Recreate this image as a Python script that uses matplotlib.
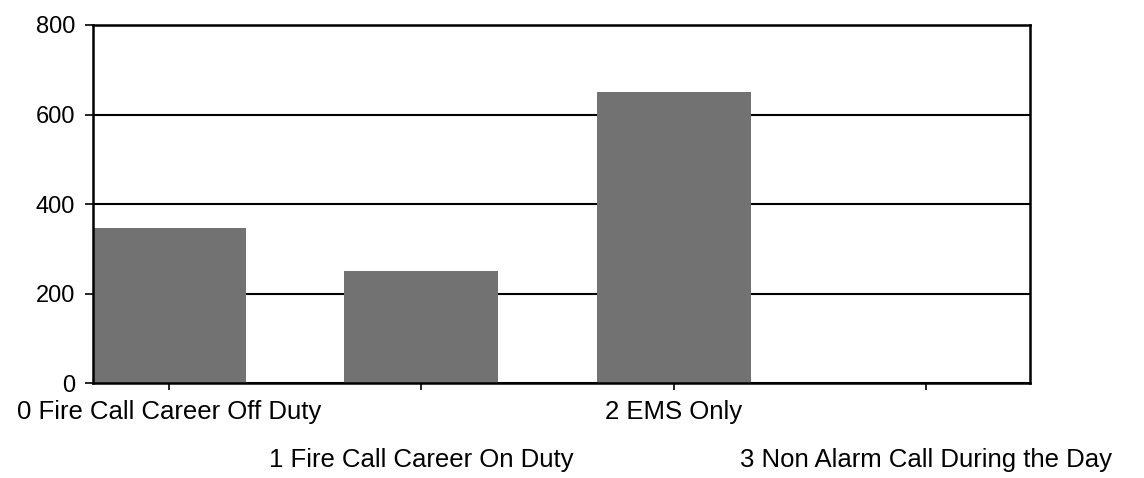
"""Bar chart of call counts by call type."""

import matplotlib

matplotlib.use("Agg")
import matplotlib.pyplot as plt
from matplotlib.transforms import ScaledTranslation

categories = [
    "0 Fire Call Career Off Duty",
    "1 Fire Call Career On Duty",
    "2 EMS Only",
    "3 Non Alarm Call During the Day",
]
counts = [346, 250, 650, 0]
y_ticks = [0, 200, 400, 600, 800]

plt.rcParams["font.family"] = ["Liberation Sans", "DejaVu Sans"]

fig = plt.figure(figsize=(11.44, 4.78), dpi=100)
ax = fig.add_axes([0.0813, 0.1987, 0.8190, 0.7490])

xs = list(range(len(categories)))
ax.bar(xs, counts, width=0.61, color="#727272", zorder=3)

ax.set_xlim(-0.30, 3.41)
ax.set_ylim(0, 800)
ax.set_yticks(y_ticks)
ax.set_xticks(xs)
ax.set_xticklabels(categories, fontsize=18.5)
ax.tick_params(axis="y", labelsize=17, length=6, width=1.2, direction="out", pad=7)
ax.tick_params(axis="x", length=5, width=1.2, direction="out", pad=7)

# stagger the odd labels onto a second row
shift = ScaledTranslation(0, -0.48, fig.dpi_scale_trans)
for label in ax.get_xticklabels()[1::2]:
    label.set_transform(label.get_transform() + shift)

ax.yaxis.grid(True, color="black", linewidth=1.5, zorder=1)
for spine in ax.spines.values():
    spine.set_linewidth(1.8)
    spine.set_zorder(4)

fig.savefig("out.png")
